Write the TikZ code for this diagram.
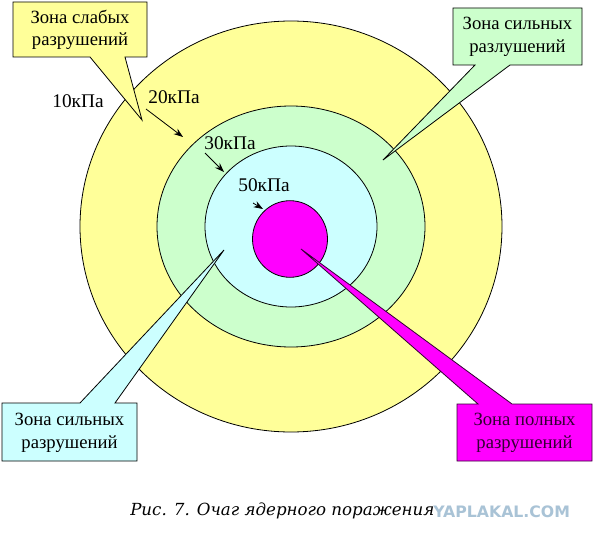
\documentclass[tikz,border=0pt]{standalone}
\usepackage{fontspec}
\setmainfont{Liberation Serif}
\newfontfamily\capfont{DejaVu Serif}
\newfontfamily\wmfont{DejaVu Sans}
\usetikzlibrary{arrows.meta}
\definecolor{zyel}{HTML}{FFFF99}
\definecolor{zgrn}{HTML}{CCFFCC}
\definecolor{zcyn}{HTML}{CCFFFF}
\definecolor{zmag}{HTML}{FF00FF}
\definecolor{zdark}{HTML}{330033}
\definecolor{wmblue}{HTML}{A9C3D6}
\begin{document}
\begin{tikzpicture}[x=0.75pt,y=-0.75pt,
  zone/.style={draw=black,line width=0.6pt},
  callout/.style={draw=black,line width=0.6pt},
  boxtext/.style={align=center,inner sep=0pt,font=\fontsize{14}{17}\selectfont},
  kpalbl/.style={inner sep=0pt,font=\fontsize{14.5}{17}\selectfont},
  kpaarrow/.style={-{Stealth[length=7pt,width=5pt]},line width=0.6pt}]
\useasboundingbox (0,0) rectangle (593,542);
% zones
\fill[white] (0,0) rectangle (593,542);
\draw[zone,fill=zyel] (291,226.5) ellipse [x radius=211, y radius=205.5];
\draw[zone,fill=zgrn] (291,226.5) ellipse [x radius=134, y radius=120.5];
\draw[zone,fill=zcyn] (291,226.5) ellipse [x radius=86, y radius=80.5];
\draw[zone,fill=zmag] (290,239) ellipse [x radius=37.5, y radius=38.3];
% callouts
\draw[callout,fill=zyel] (13,2) -- (147,2) -- (147,57) -- (125,57) -- (142,120) -- (90,57) -- (13,57) -- cycle;
\node[boxtext] (weak) at (80,30) {Зона слабых\\разрушений};
\draw[callout,fill=zgrn] (453,8) -- (582,8) -- (582,65) -- (510,65) -- (383,160) -- (475,65) -- (453,65) -- cycle;
\node[boxtext] (strong1) at (517.5,37) {Зона сильных\\разлушений};
\draw[callout,fill=zcyn] (2,403) -- (80,403) -- (224,250) -- (115,403) -- (137,403) -- (137,461) -- (2,461) -- cycle;
\node[boxtext] (strong2) at (69.5,432.5) {Зона сильных\\разрушений};
\draw[callout,draw=zdark,fill=zmag] (457,404) -- (478,404) -- (301,249) -- (512,404) -- (592,404) -- (592,461) -- (457,461) -- cycle;
\node[boxtext,text=zdark] (full) at (524.5,433) {Зона полных\\разрушений};
% pressure labels
\node[kpalbl] (k10) at (78,101) {10кПа};
\node[kpalbl] (k20) at (174,97) {20кПа};
\node[kpalbl] (k30) at (230,143) {30кПа};
\node[kpalbl] (k50) at (264,185) {50кПа};
\coordinate (a20s) at (146,109); \coordinate (a20e) at (183,137);
\coordinate (a30s) at (205,153); \coordinate (a30e) at (224,172);
\coordinate (a50s) at (253,203); \coordinate (a50e) at (263,209);
\draw[kpaarrow] (a20s) -- (a20e);
\draw[kpaarrow] (a30s) -- (a30e);
\draw[kpaarrow] (a50s) -- (a50e);
% caption
\node[anchor=west,inner sep=0pt,font=\capfont\itshape\fontsize{12.5}{15}\selectfont] (cap) at (130,511) {Рис. 7. Очаг ядерного поражения};
\node[anchor=west,inner sep=0pt,text=wmblue,font=\wmfont\bfseries\fontsize{11.8}{13}\selectfont] (wm) at (433,512) {YAPLAKAL.COM};
\end{tikzpicture}
\end{document}
